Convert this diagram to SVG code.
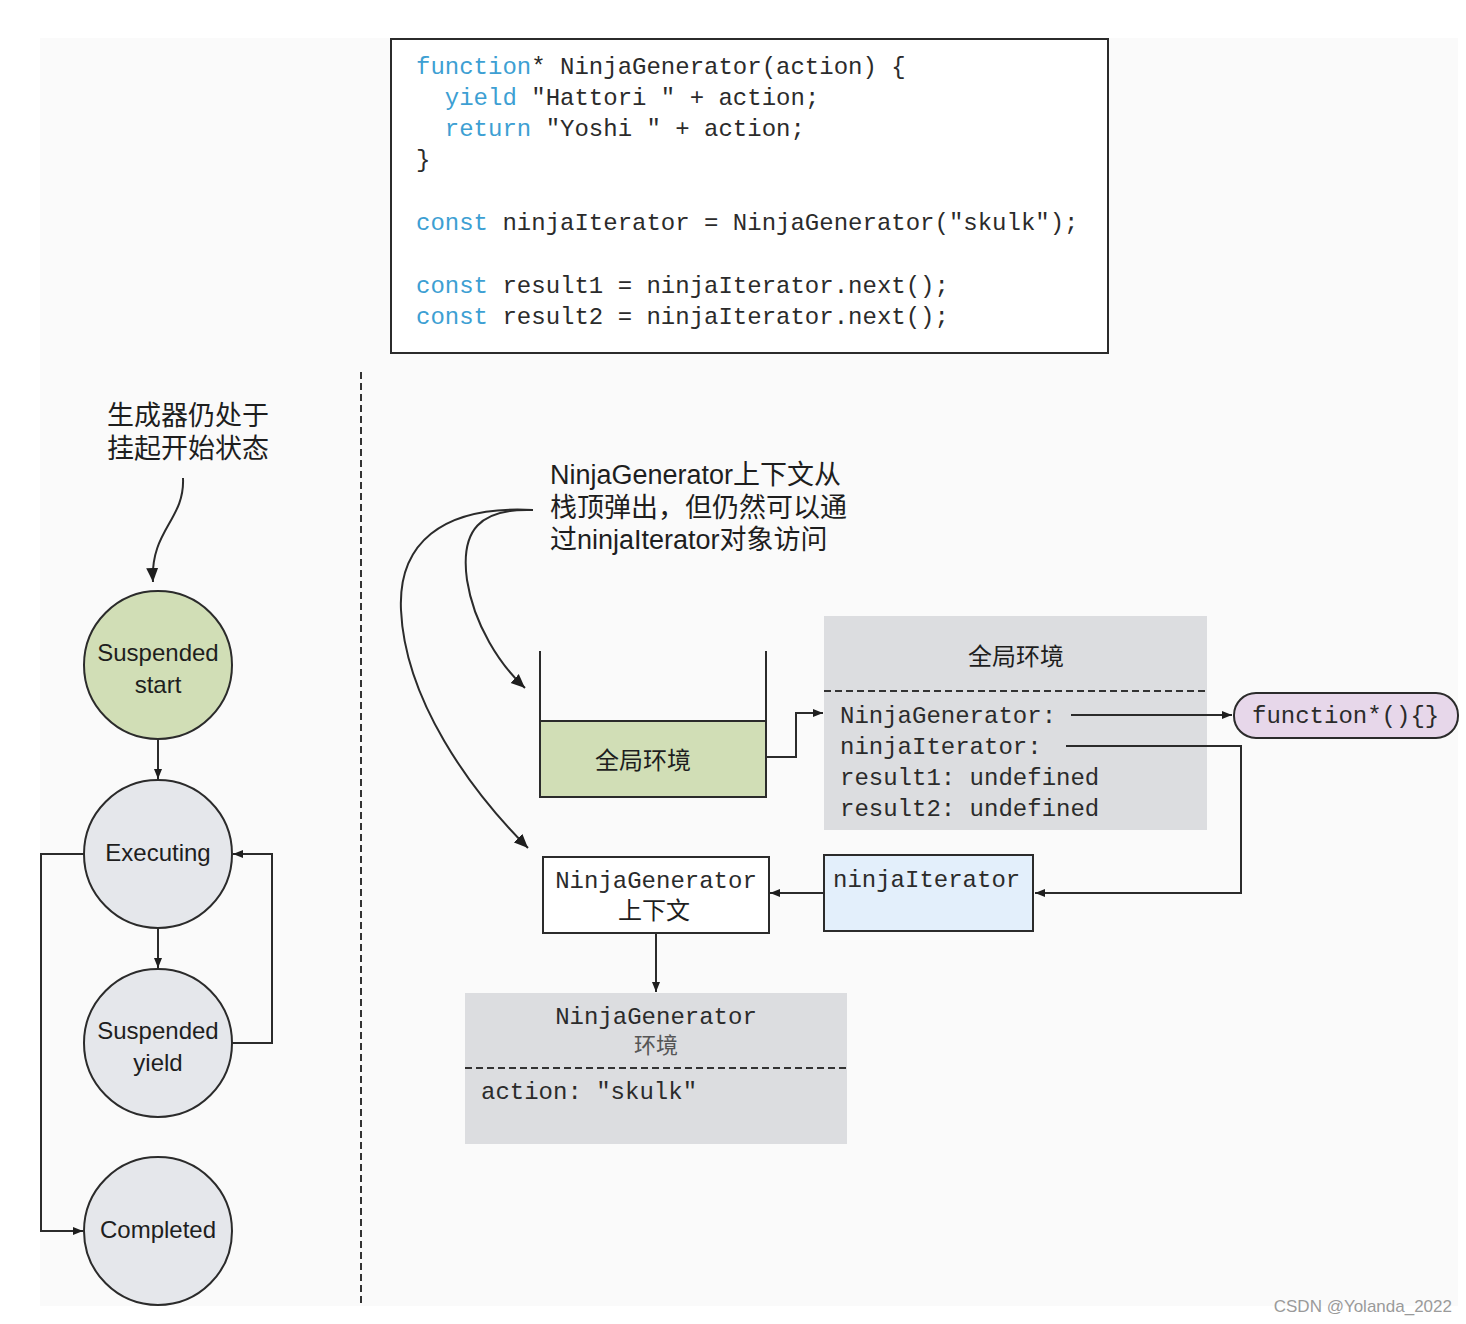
<svg xmlns="http://www.w3.org/2000/svg" width="1466" height="1324" viewBox="0 0 1466 1324">
<style>
.code{font-family:"Liberation Mono","DejaVu Sans Mono",monospace;font-size:24px;fill:#2b2b2b;white-space:pre}
.kw{fill:#3d9fd3}
.sans{font-family:"Liberation Sans","Noto Sans CJK SC",sans-serif;fill:#1e1e1e}
.cn{font-family:"Noto Sans CJK SC",sans-serif;fill:#1e1e1e}
.circ{stroke:#2b2b2b;stroke-width:2}
.ln{fill:none;stroke:#2b2b2b;stroke-width:2}
.box{stroke:#2b2b2b;stroke-width:2}
</style>
<defs>
<marker id="ah" viewBox="0 0 10 10" refX="10" refY="5" markerWidth="10" markerHeight="10" markerUnits="userSpaceOnUse" orient="auto">
<path d="M0,1 L10,5 L0,9 Z" fill="#1e1e1e"/>
</marker>
<marker id="ahb" viewBox="0 0 14 14" refX="14" refY="7" markerWidth="14" markerHeight="14" markerUnits="userSpaceOnUse" orient="auto">
<path d="M0,1 L14,7 L0,13 Z" fill="#1e1e1e"/>
</marker>
</defs>
<rect x="0" y="0" width="1466" height="1324" fill="#ffffff"/>
<rect x="40" y="38" width="1418" height="1268" fill="#fafafa"/>

<g id="code">
<rect x="391" y="39" width="717" height="314" fill="#ffffff" class="box"/>
<text class="code" x="416" y="74"><tspan class="kw">function</tspan>* NinjaGenerator(action) {</text>
<text class="code" x="416" y="105">  <tspan class="kw">yield</tspan> "Hattori " + action;</text>
<text class="code" x="416" y="136">  <tspan class="kw">return</tspan> "Yoshi " + action;</text>
<text class="code" x="416" y="167">}</text>
<text class="code" x="416" y="230"><tspan class="kw">const</tspan> ninjaIterator = NinjaGenerator("skulk");</text>
<text class="code" x="416" y="293"><tspan class="kw">const</tspan> result1 = ninjaIterator.next();</text>
<text class="code" x="416" y="324"><tspan class="kw">const</tspan> result2 = ninjaIterator.next();</text>
</g>

<g id="divider">
<line x1="361" y1="372" x2="361" y2="1306" stroke="#333" stroke-width="2" stroke-dasharray="7,4"/>
</g>

<g id="label-state">
<text class="cn" x="188" y="425" font-size="27" text-anchor="middle">生成器仍处于</text>
<text class="cn" x="188" y="458" font-size="27" text-anchor="middle">挂起开始状态</text>
</g>

<g id="node-suspended-start">
<circle cx="158" cy="665" r="74" fill="#d1deb6" class="circ"/>
<text class="sans" x="158" y="661" font-size="24" text-anchor="middle">Suspended</text>
<text class="sans" x="158" y="693" font-size="24" text-anchor="middle">start</text>
</g>
<g id="node-executing">
<circle cx="158" cy="854" r="74" fill="#e5e7eb" class="circ"/>
<text class="sans" x="158" y="861" font-size="24" text-anchor="middle">Executing</text>
</g>
<g id="node-suspended-yield">
<circle cx="158" cy="1043" r="74" fill="#e5e7eb" class="circ"/>
<text class="sans" x="158" y="1039" font-size="24" text-anchor="middle">Suspended</text>
<text class="sans" x="158" y="1071" font-size="24" text-anchor="middle">yield</text>
</g>
<g id="node-completed">
<circle cx="158" cy="1231" r="74" fill="#e5e7eb" class="circ"/>
<text class="sans" x="158" y="1238" font-size="24" text-anchor="middle">Completed</text>
</g>

<g id="label-popped">
<text class="sans" x="550" y="484" font-size="27">NinjaGenerator上下文从</text>
<text class="sans" x="550" y="517" font-size="27">栈顶弹出，但仍然可以通</text>
<text class="sans" x="550" y="549" font-size="27">过ninjaIterator对象访问</text>
</g>

<g id="node-stack">
<line x1="540" y1="651" x2="540" y2="721" class="ln"/>
<line x1="766" y1="651" x2="766" y2="721" class="ln"/>
<rect x="540" y="721" width="226" height="76" fill="#d1deb6" class="box"/>
<text class="cn" x="643" y="769" font-size="24" text-anchor="middle">全局环境</text>
</g>

<g id="node-global-env">
<rect x="824" y="616" width="383" height="214" fill="#dcdde0"/>
<text class="cn" x="1016" y="665" font-size="24" text-anchor="middle">全局环境</text>
<line x1="824" y1="691" x2="1207" y2="691" stroke="#333" stroke-width="2" stroke-dasharray="7,4"/>
<text class="code" x="840" y="723">NinjaGenerator:</text>
<text class="code" x="840" y="754">ninjaIterator:</text>
<text class="code" x="840" y="785">result1: undefined</text>
<text class="code" x="840" y="816">result2: undefined</text>
</g>

<g id="node-function">
<rect x="1234" y="693" width="224" height="45" rx="22" fill="#e7d7ea" class="box"/>
<text class="code" x="1252" y="723">function*(){}</text>
</g>

<g id="node-ninjaIterator">
<rect x="824" y="855" width="209" height="76" fill="#e3effb" class="box"/>
<text class="code" x="833" y="887">ninjaIterator</text>
</g>

<g id="node-gen-context">
<rect x="543" y="857" width="226" height="76" fill="#ffffff" class="box"/>
<text class="code" x="656" y="888" text-anchor="middle">NinjaGenerator</text>
<text class="cn" x="654" y="919" font-size="24" text-anchor="middle">上下文</text>
</g>

<g id="node-gen-env">
<rect x="465" y="993" width="382" height="151" fill="#dcdde0"/>
<text class="code" x="656" y="1024" text-anchor="middle">NinjaGenerator</text>
<text x="656" y="1053" font-size="22" text-anchor="middle" fill="#555" font-family="Noto Sans CJK SC,sans-serif">环境</text>
<line x1="465" y1="1068" x2="847" y2="1068" stroke="#333" stroke-width="2" stroke-dasharray="7,4"/>
<text class="code" x="481" y="1099">action: "skulk"</text>
</g>

<g id="connectors">
<path d="M183,478 C185,520 150,530 153,582" class="ln" stroke-width="1.5" marker-end="url(#ahb)"/>
<line x1="158" y1="739" x2="158" y2="779" class="ln" marker-end="url(#ah)"/>
<line x1="158" y1="928" x2="158" y2="968" class="ln" marker-end="url(#ah)"/>
<polyline points="232,1043 272,1043 272,854 233,854" class="ln" marker-end="url(#ah)"/>
<polyline points="84,854 41,854 41,1231 83,1231" class="ln" marker-end="url(#ah)"/>
<path d="M533,510 C480,508 460,530 467,580 C474,625 500,665 525,688" class="ln" stroke-width="1.5" marker-end="url(#ahb)"/>
<path d="M533,510 C440,505 398,545 401,610 C405,700 470,790 528,848" class="ln" stroke-width="1.5" marker-end="url(#ahb)"/>
<polyline points="766,757 796,757 796,713 823,713" class="ln" marker-end="url(#ah)"/>
<line x1="1071" y1="715" x2="1232" y2="715" class="ln" marker-end="url(#ah)"/>
<polyline points="1066,746 1241,746 1241,893 1035,893" class="ln" marker-end="url(#ah)"/>
<line x1="824" y1="893" x2="770" y2="893" class="ln" marker-end="url(#ah)"/>
<line x1="656" y1="933" x2="656" y2="992" class="ln" marker-end="url(#ah)"/>
</g>

<text x="1452" y="1312" font-size="17" text-anchor="end" fill="#9a9a9a" font-family="Liberation Sans,sans-serif">CSDN @Yolanda_2022</text>
</svg>
